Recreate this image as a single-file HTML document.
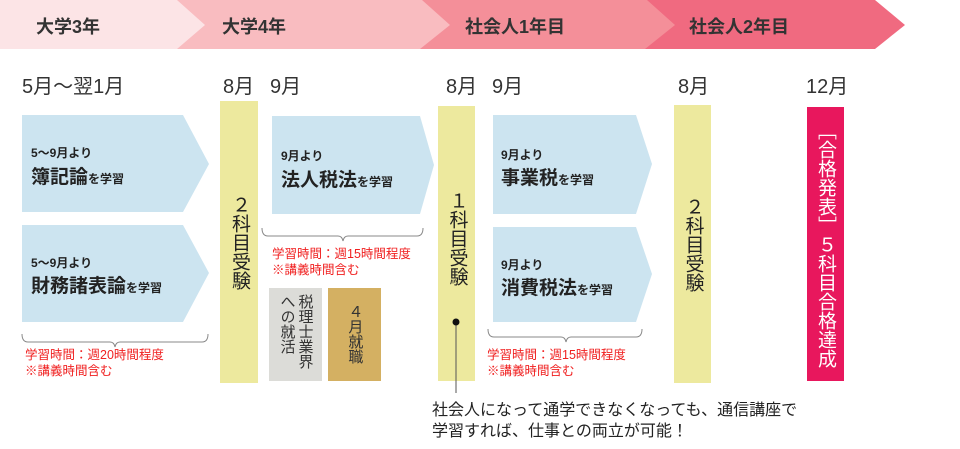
<!DOCTYPE html>
<html><head><meta charset="utf-8"><style>
body{margin:0;width:960px;height:449px;background:#fff;position:relative;overflow:hidden;font-family:"Liberation Sans","Noto Sans CJK JP",sans-serif;color:#222}
.a{position:absolute;white-space:nowrap}
.h{font-weight:bold;font-size:18px;top:13px;color:#333}
.m{font-size:20px;top:70px;color:#333}
.bar{position:absolute;background:#ede99e;display:flex;align-items:center;justify-content:center}
.v{writing-mode:vertical-rl;text-orientation:upright;font-size:19px;line-height:1.05;color:#222;white-space:nowrap}
.s{font-size:12px;font-weight:bold;color:#222}
.b{font-size:19px;font-weight:bold;color:#222}
.b small{font-size:12px}
.r{font-size:12.5px;color:#f02020;line-height:16px}
</style></head><body>
<svg class="a" style="left:0;top:0" width="960" height="449">
<polygon points="0,0 875,0 905,25 875,49 0,49" fill="#f06a80"/>
<polygon points="0,0 647,0 675,25 645,49 0,49" fill="#f48f99"/>
<polygon points="0,0 422,0 450,25 420,49 0,49" fill="#f9bcc0"/>
<polygon points="0,0 177,0 205,25 177,49 0,49" fill="#fce4e6"/>
<polygon points="22,115 183,115 209,164 183,212 22,212" fill="#cce4f0"/>
<polygon points="22,225 183,225 209,273 183,322 22,322" fill="#cce4f0"/>
<polygon points="272,116 420,116 434,165 420,214 272,214" fill="#cce4f0"/>
<polygon points="493,115 636,115 652,164 636,214 493,214" fill="#cce4f0"/>
<polygon points="493,227 636,227 652,274 636,322 493,322" fill="#cce4f0"/>
</svg>
<div class="a h" style="left:36px">大学3年</div>
<div class="a h" style="left:222px">大学4年</div>
<div class="a h" style="left:465px">社会人1年目</div>
<div class="a h" style="left:689px">社会人2年目</div>
<div class="a m" style="left:22px">5月～翌1月</div>
<div class="a m" style="left:223px">8月</div>
<div class="a m" style="left:270px">9月</div>
<div class="a m" style="left:446px">8月</div>
<div class="a m" style="left:492px">9月</div>
<div class="a m" style="left:678px">8月</div>
<div class="a m" style="left:806px">12月</div>
<div class="bar" style="left:220px;top:101px;width:38px;height:282px"><span class="v">２科目受験</span></div>
<div class="bar" style="left:438px;top:106px;width:37px;height:275px"><span class="v" style="margin-top:-10px">１科目受験</span></div>
<div class="bar" style="left:674px;top:105px;width:37px;height:278px"><span class="v">２科目受験</span></div>
<div class="bar" style="left:807px;top:107px;width:37px;height:274px;background:#e8175d"><span class="v" style="color:#fff;font-size:19px;line-height:1">［合格発表］５科目合格達成</span></div>
<svg class="a" style="left:0;top:0" width="960" height="449" fill="none" stroke="#888" stroke-width="1">
<path d="M22,334 q0,8 6,8 H110 q4,0 5,5 q1,-5 5,-5 H202 q6,0 6,-8"/>
<path d="M262,228 q0,8 6,8 H338 q4,0 5,5 q1,-5 5,-5 H417 q6,0 6,-8"/>
<path d="M488,329 q0,8 6,8 H561 q4,0 5,5 q1,-5 5,-5 H636 q6,0 6,-8"/>
<line x1="456" y1="322" x2="456" y2="393" stroke="#555"/>
<circle cx="456" cy="322" r="3.5" fill="#111" stroke="none"/>
</svg>
<div class="a s" style="left:31px;top:144px">5～9月より</div>
<div class="a b" style="left:31px;top:162px">簿記論<small>を学習</small></div>
<div class="a s" style="left:31px;top:254px">5～9月より</div>
<div class="a b" style="left:31px;top:271px">財務諸表論<small>を学習</small></div>
<div class="a s" style="left:281px;top:147px">9月より</div>
<div class="a b" style="left:281px;top:165px">法人税法<small>を学習</small></div>
<div class="a s" style="left:501px;top:146px">9月より</div>
<div class="a b" style="left:501px;top:163px">事業税<small>を学習</small></div>
<div class="a s" style="left:501px;top:256px">9月より</div>
<div class="a b" style="left:501px;top:273px">消費税法<small>を学習</small></div>
<div class="a r" style="left:25px;top:347px">学習時間：週20時間程度<br>※講義時間含む</div>
<div class="a r" style="left:272px;top:246px">学習時間：週15時間程度<br>※講義時間含む</div>
<div class="a r" style="left:487px;top:347px">学習時間：週15時間程度<br>※講義時間含む</div>
<div class="a" style="left:269px;top:288px;width:53px;height:93px;background:#dcdcd8;display:flex;justify-content:center;padding-top:6px;box-sizing:border-box"><span class="v" style="font-size:15px;line-height:18px;color:#333">税理士業界<br>への就活</span></div>
<div class="a" style="left:328px;top:288px;width:53px;height:93px;background:#d4b062;display:flex;justify-content:center;padding-top:16px;box-sizing:border-box"><span class="v" style="font-size:15px;color:#333">４月就職</span></div>
<div class="a" style="left:432px;top:400px;font-size:16px;line-height:21px;color:#222">社会人になって通学できなくなっても、通信講座で<br>学習すれば、仕事との両立が可能！</div>
</body></html>
